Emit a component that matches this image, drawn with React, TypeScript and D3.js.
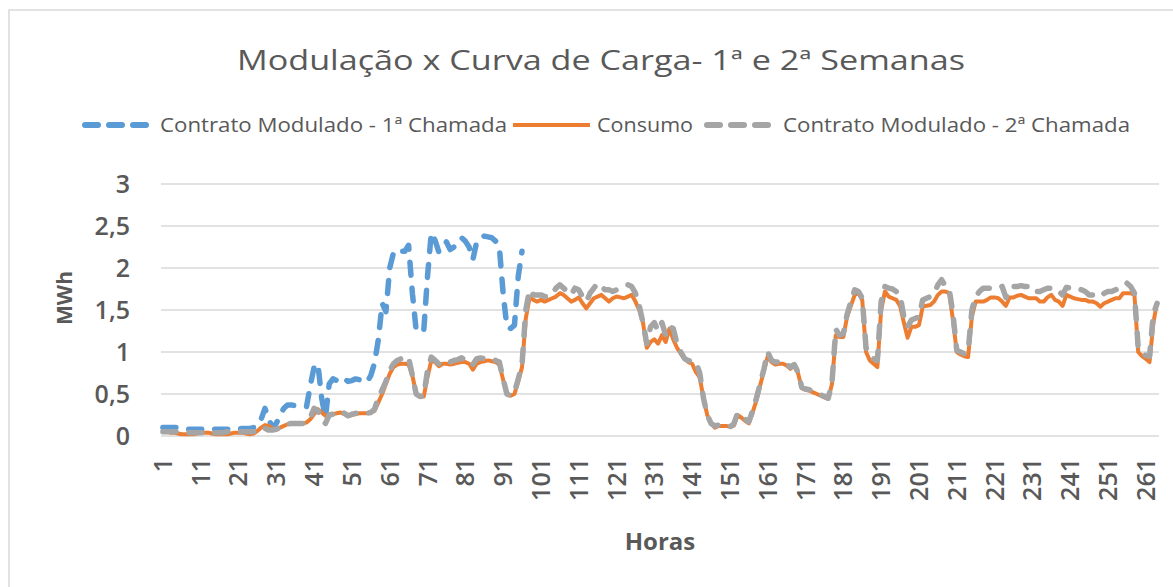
import * as React from "react";
import * as d3 from "d3";

// hours 1..264 (11 days)
const hours: number[] = Array.from({ length: 264 }, (_, i) => i + 1);
const tickHours: number[] = hours.filter((h) => (h - 1) % 10 === 0);
const yTicks: number[] = [0, 0.5, 1, 1.5, 2, 2.5, 3];

const seriesNames = [
  "Contrato Modulado - 1ª Chamada",
  "Consumo",
  "Contrato Modulado - 2ª Chamada",
];

// Contrato Modulado - 1ª Chamada (hours 1..96)
const chamada1: number[] = [
  0.1, 0.1, 0.1, 0.1, 0.1, 0.09, 0.08, 0.08, 0.08, 0.08,
  0.08, 0.08, 0.08, 0.08, 0.08, 0.08, 0.08, 0.08, 0.08, 0.08,
  0.08, 0.09, 0.09, 0.09, 0.1, 0.12, 0.2, 0.33, 0.2, 0.1,
  0.15, 0.25, 0.33, 0.37, 0.37, 0.36, 0.36, 0.35, 0.35, 0.6,
  0.82, 0.86, 0.45, 0.22, 0.62, 0.68, 0.66, 0.7, 0.68, 0.65,
  0.66, 0.68, 0.67, 0.66, 0.64, 0.72, 0.87, 1.15, 1.58, 1.48,
  2.0, 2.18, 2.22, 2.2, 2.2, 2.27, 1.7, 1.26, 1.24, 1.25,
  1.9, 2.42, 2.33, 2.19, 2.25, 2.31, 2.22, 2.25, 2.3, 2.36,
  2.32, 2.25, 2.1, 2.31, 2.36, 2.38, 2.37, 2.36, 2.32, 2.25,
  1.7, 1.3, 1.28, 1.32, 1.9, 2.2,
];

// Consumo (hours 1..264)
const consumo: number[] = [
  0.05, 0.05, 0.04, 0.04, 0.03, 0.02, 0.02, 0.02, 0.02, 0.03,
  0.04, 0.04, 0.04, 0.03, 0.02, 0.02, 0.02, 0.02, 0.03, 0.04,
  0.04, 0.04, 0.03, 0.02, 0.03, 0.06, 0.1, 0.13, 0.12, 0.09,
  0.08, 0.1, 0.12, 0.14, 0.15, 0.15, 0.15, 0.15, 0.16, 0.2,
  0.26, 0.32, 0.28, 0.24, 0.25, 0.26, 0.27, 0.28, 0.26, 0.24,
  0.25, 0.26, 0.27, 0.27, 0.27, 0.28, 0.3, 0.4, 0.5, 0.62,
  0.74, 0.82, 0.85, 0.86, 0.86, 0.85, 0.72, 0.5, 0.47, 0.47,
  0.7, 0.9, 0.88, 0.83, 0.86, 0.86, 0.85, 0.86, 0.87, 0.88,
  0.88, 0.86, 0.79, 0.86, 0.88, 0.89, 0.9, 0.89, 0.88, 0.85,
  0.67, 0.5, 0.48, 0.5, 0.65, 0.82, 1.4, 1.65, 1.62, 1.6,
  1.62, 1.6, 1.62, 1.64, 1.66, 1.7, 1.68, 1.64, 1.6, 1.62,
  1.65, 1.58, 1.52, 1.58, 1.64, 1.66, 1.68, 1.64, 1.6, 1.64,
  1.66, 1.65, 1.64, 1.66, 1.68, 1.6, 1.5, 1.35, 1.05, 1.12,
  1.15, 1.1, 1.2, 1.12, 1.28, 1.15, 1.05, 0.98, 0.92, 0.88,
  0.86, 0.76, 0.7, 0.45, 0.25, 0.15, 0.1, 0.12, 0.12, 0.12,
  0.11, 0.12, 0.25, 0.22, 0.18, 0.15, 0.28, 0.42, 0.6, 0.78,
  0.95, 0.88, 0.85, 0.86, 0.86, 0.84, 0.8, 0.84, 0.75, 0.57,
  0.55, 0.54, 0.52, 0.5, 0.48, 0.46, 0.44, 0.62, 1.2, 1.18,
  1.18, 1.42, 1.55, 1.68, 1.7, 1.62, 1.0, 0.9, 0.86, 0.82,
  1.5, 1.72, 1.66, 1.64, 1.62, 1.55, 1.35, 1.17, 1.3, 1.3,
  1.32, 1.54, 1.55, 1.56, 1.6, 1.68, 1.72, 1.72, 1.7, 1.38,
  1.0, 0.97, 0.95, 0.94, 1.42, 1.6, 1.6, 1.6, 1.62, 1.65,
  1.65, 1.64, 1.6, 1.55, 1.65, 1.65, 1.67, 1.68, 1.66, 1.64,
  1.64, 1.64, 1.6, 1.6, 1.65, 1.68, 1.62, 1.6, 1.55, 1.68,
  1.66, 1.64, 1.63, 1.62, 1.62, 1.6, 1.6, 1.58, 1.54, 1.58,
  1.6, 1.62, 1.64, 1.64, 1.7, 1.7, 1.7, 1.68, 1.0, 0.95,
  0.92, 0.88, 1.34, 1.6,
];

// Contrato Modulado - 2ª Chamada (hours 1..264)
const chamada2: number[] = [
  0.05, 0.05, 0.05, 0.05, 0.05, 0.05, 0.05, 0.04, 0.04, 0.04,
  0.04, 0.04, 0.04, 0.04, 0.04, 0.04, 0.04, 0.05, 0.05, 0.05,
  0.05, 0.05, 0.05, 0.05, 0.05, 0.06, 0.1, 0.09, 0.07, 0.07,
  0.08, 0.1, 0.12, 0.14, 0.15, 0.15, 0.15, 0.15, 0.17, 0.22,
  0.33, 0.3, 0.2, 0.15, 0.25, 0.26, 0.28, 0.3, 0.27, 0.24,
  0.26, 0.27, 0.27, 0.27, 0.27, 0.28, 0.32, 0.46, 0.55, 0.65,
  0.78, 0.86, 0.9, 0.92, 0.9, 0.93, 0.72, 0.5, 0.47, 0.48,
  0.78, 0.94, 0.9, 0.86, 0.88, 0.9, 0.88, 0.9, 0.91, 0.93,
  0.9, 0.9, 0.85, 0.92, 0.93, 0.92, 0.93, 0.92, 0.9, 0.88,
  0.68, 0.5, 0.48, 0.52, 0.68, 0.85, 1.5, 1.74, 1.68, 1.68,
  1.68, 1.66, 1.66, 1.7, 1.76, 1.8, 1.76, 1.72, 1.68, 1.76,
  1.74, 1.66, 1.6, 1.7, 1.76, 1.82, 1.78, 1.74, 1.74, 1.72,
  1.74, 1.76, 1.78, 1.8, 1.78, 1.7, 1.55, 1.35, 1.1, 1.3,
  1.35, 1.25, 1.35, 1.2, 1.3, 1.28, 1.1, 1.0, 0.92, 0.9,
  0.88, 0.88, 0.75, 0.45, 0.25, 0.15, 0.12, 0.13, 0.13, 0.12,
  0.11, 0.14, 0.27, 0.24, 0.2, 0.17, 0.3, 0.45, 0.62, 0.8,
  1.0, 0.9, 0.88, 0.88, 0.88, 0.86, 0.82, 0.85, 0.76, 0.58,
  0.56, 0.55, 0.53, 0.51, 0.49, 0.47, 0.45, 0.64, 1.27, 1.2,
  1.22, 1.45, 1.6, 1.74, 1.72, 1.64, 1.05, 0.98, 0.92, 0.9,
  1.6, 1.78, 1.76, 1.75, 1.72, 1.68, 1.42, 1.3, 1.38, 1.4,
  1.42, 1.62, 1.64, 1.66, 1.7, 1.8, 1.86, 1.78, 1.75, 1.45,
  1.02, 1.0, 0.98, 1.0, 1.5, 1.66, 1.72, 1.76, 1.76, 1.76,
  1.76, 1.76, 1.78, 1.65, 1.74, 1.78, 1.78, 1.79, 1.78, 1.78,
  1.72, 1.72, 1.72, 1.74, 1.76, 1.76, 1.72, 1.72, 1.68, 1.77,
  1.76, 1.76, 1.76, 1.74, 1.72, 1.68, 1.68, 1.68, 1.66, 1.7,
  1.72, 1.72, 1.74, 1.76, 1.8, 1.82, 1.78, 1.7, 1.05, 0.98,
  0.96, 0.95, 1.45, 1.58,
];

const W = 1173;
const H = 587;
const TEXT = "#595959";
const GRID = "#d9d9d9";
const BLUE = "#5b9bd5";
const ORANGE = "#ed7d31";
const GRAY = "#a5a5a5";
const FONT = '"Open Sans", "Liberation Sans", sans-serif';

export default function App() {
  const x = d3.scaleLinear().domain([0.5, hours.length + 0.5]).range([161, 1159]);
  const y = d3.scaleLinear().domain([0, 3]).range([436, 184]);

  const line = d3
    .line<number>()
    .x((_d, i) => x(i + 1))
    .y((d) => y(d));

  const legend = [
    { name: seriesNames[0], color: BLUE, dash: true, x0: 82, x1: 150, tx: 160, tw: 347 },
    { name: seriesNames[1], color: ORANGE, dash: false, x0: 513, x1: 590, tx: 597, tw: 96 },
    { name: seriesNames[2], color: GRAY, dash: true, x0: 704, x1: 772, tx: 783, tw: 347 },
  ];

  return (
    <svg
      width={W}
      height={H}
      style={{ position: "absolute", left: 0, top: 0, background: "#fff" }}
      fontFamily={FONT}
    >
      <rect x={9} y={10} width={1300} height={700} fill="#fff" stroke={GRID} strokeWidth={1.5} />

      {/* title */}
      <text
        x={601}
        y={70}
        textAnchor="middle"
        fontSize={28}
        fill={TEXT}
        textLength={728}
        lengthAdjust="spacingAndGlyphs"
      >
        Modulação x Curva de Carga- 1ª e 2ª Semanas
      </text>

      {/* legend */}
      {legend.map((l) => (
        <g key={l.name}>
          <line
            x1={l.x0 + (l.dash ? 3 : 0)}
            x2={l.x1}
            y1={125}
            y2={125}
            stroke={l.color}
            strokeWidth={l.dash ? 6 : 4}
            strokeLinecap={l.dash ? "round" : "butt"}
            strokeDasharray={l.dash ? "13 11" : undefined}
          />
          <text
            x={l.tx}
            y={132}
            fontSize={20}
            fill={TEXT}
            textLength={l.tw}
            lengthAdjust="spacingAndGlyphs"
          >
            {l.name}
          </text>
        </g>
      ))}

      {/* gridlines */}
      {yTicks.map((t) => (
        <line key={t} x1={161} x2={1159} y1={y(t)} y2={y(t)} stroke={GRID} strokeWidth={1.5} />
      ))}

      {/* y tick labels */}
      {yTicks.map((t) => (
        <text
          key={"l" + t}
          x={130}
          y={y(t)}
          dy="0.36em"
          textAnchor="end"
          fontSize={25}
          fontWeight={600}
          fill={TEXT}
        >
          {String(t).replace(".", ",")}
        </text>
      ))}

      <text
        transform={`translate(72,298) rotate(-90)`}
        textAnchor="middle"
        fontSize={21}
        fontWeight={700}
        fill={TEXT}
      >
        MWh
      </text>

      {/* x tick labels */}
      {tickHours.map((h) => (
        <text
          key={h}
          transform={`translate(${x(h)},458) rotate(-90)`}
          dy="0.36em"
          textAnchor="end"
          fontSize={25}
          fontWeight={600}
          fill={TEXT}
        >
          {h}
        </text>
      ))}

      <text x={660} y={550} textAnchor="middle" fontSize={24} fontWeight={700} fill={TEXT}>
        Horas
      </text>

      {/* series */}
      <path
        d={line(chamada1) ?? ""}
        fill="none"
        stroke={BLUE}
        strokeWidth={5.5}
        strokeDasharray="13 13"
        strokeLinecap="round"
        strokeLinejoin="round"
      />
      <path
        d={line(consumo) ?? ""}
        fill="none"
        stroke={ORANGE}
        strokeWidth={4}
        strokeLinejoin="round"
      />
      <path
        d={line(chamada2) ?? ""}
        fill="none"
        stroke={GRAY}
        strokeWidth={5.5}
        strokeDasharray="13 13"
        strokeLinecap="round"
        strokeLinejoin="round"
      />
    </svg>
  );
}
